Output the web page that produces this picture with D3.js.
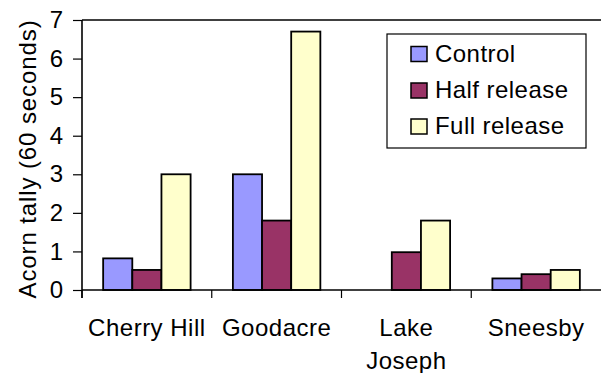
<!DOCTYPE html>
<html>
<head>
<meta charset="utf-8">
<script src="https://cdn.jsdelivr.net/npm/d3@7"></script>
<style>
  html, body { margin: 0; padding: 0; background: #fff; }
  svg { display: block; font-family: "Liberation Sans", Arial, sans-serif; }
</style>
</head>
<body>
<svg id="chart" width="601" height="373"></svg>
<script>
// Sites along the x axis (wrapped lines listed separately)
const sites = ["Cherry Hill", "Goodacre", "Lake Joseph", "Sneesby"];
const siteLines = [["Cherry Hill"], ["Goodacre"], ["Lake", "Joseph"], ["Sneesby"]];
// Treatments and their fills
const treatments = ["Control", "Half release", "Full release"];
const treatmentColors = ["#9999FF", "#993366", "#FFFFCC"];
// Acorn tally per site, one array per treatment
const controlValues = [0.82, 3.0, 0, 0.3];
const halfReleaseValues = [0.52, 1.8, 0.98, 0.41];
const fullReleaseValues = [3.0, 6.7, 1.8, 0.52];
const yTicks = [0, 1, 2, 3, 4, 5, 6, 7];

const seriesValues = [controlValues, halfReleaseValues, fullReleaseValues];

const svg = d3.select("#chart");
const plotLeft = 82, plotTop = 20, plotBottom = 290, plotRight = 601;

const x0 = d3.scaleBand().domain(sites).range([plotLeft, plotRight]).paddingInner(0).paddingOuter(0);
const bw = x0.bandwidth();
const x1 = d3.scaleBand().domain(treatments).range([bw * 0.163, bw * 0.837]).paddingInner(0).paddingOuter(0);
const y = d3.scaleLinear().domain([0, 7]).range([plotBottom, plotTop]);

// Top frame line
svg.append("line").attr("x1", plotLeft).attr("x2", plotRight).attr("y1", plotTop).attr("y2", plotTop)
  .attr("stroke", "#000").attr("stroke-width", 1.6);

// Bars
const groups = svg.append("g").selectAll("g").data(sites).join("g")
  .attr("transform", d => `translate(${x0(d)},0)`);
groups.selectAll("rect")
  .data((site, i) => treatments.map((t, k) => ({ t, k, v: seriesValues[k][i] })).filter(d => d.v > 0))
  .join("rect")
  .attr("x", d => x1(d.t))
  .attr("width", x1.bandwidth())
  .attr("y", d => y(d.v))
  .attr("height", d => y(0) - y(d.v))
  .attr("fill", d => treatmentColors[d.k])
  .attr("stroke", "#000")
  .attr("stroke-width", 1.8);

// Y axis
const yAxis = d3.axisLeft(y).tickValues(yTicks).tickSize(9).tickPadding(10).tickFormat(d3.format("d"));
const gy = svg.append("g").attr("transform", `translate(${plotLeft},0)`).call(yAxis);
gy.select(".domain").attr("stroke-width", 1.6).attr("d", `M0,${plotTop}V${plotBottom + 8}`);
gy.selectAll(".tick line").attr("stroke-width", 1.2);
gy.selectAll(".tick text").attr("font-size", 24).attr("fill", "#000")
  .attr("font-family", "Liberation Sans, Arial, sans-serif");

// X axis: baseline with tick marks at band boundaries
svg.append("line").attr("x1", plotLeft).attr("x2", plotRight).attr("y1", plotBottom).attr("y2", plotBottom)
  .attr("stroke", "#000").attr("stroke-width", 1.6);
svg.append("g").selectAll("line").data(sites).join("line")
  .attr("x1", d => x0(d)).attr("x2", d => x0(d))
  .attr("y1", plotBottom).attr("y2", plotBottom + 8)
  .attr("stroke", "#000").attr("stroke-width", 1.2);

// Site labels
const labels = svg.append("g").selectAll("text").data(sites).join("text")
  .attr("text-anchor", "middle")
  .attr("font-size", 24)
  .attr("letter-spacing", 0.5)
  .attr("fill", "#000");
labels.each(function (d, i) {
  const cx = x0(d) + bw / 2;
  d3.select(this).selectAll("tspan").data(siteLines[i]).join("tspan")
    .attr("x", cx)
    .attr("y", (l, j) => 335.5 + j * 33.5)
    .text(l => l);
});

// Y axis title
svg.append("text")
  .attr("transform", `translate(36,${(plotTop + plotBottom) / 2 + 4}) rotate(-90)`)
  .attr("text-anchor", "middle")
  .attr("font-size", 24)
  .attr("letter-spacing", 0.9)
  .attr("fill", "#000")
  .text("Acorn tally (60 seconds)");

// Legend
const legend = svg.append("g");
legend.append("rect").attr("x", 387).attr("y", 34).attr("width", 199).attr("height", 114)
  .attr("fill", "#fff").attr("stroke", "#000").attr("stroke-width", 1.2);
const items = legend.selectAll("g.item").data(treatments).join("g").attr("class", "item")
  .attr("transform", (d, i) => `translate(0,${[54, 90.5, 126.5][i]})`);
items.append("rect").attr("x", 411).attr("y", -7.5).attr("width", 16).attr("height", 15)
  .attr("fill", (d, i) => treatmentColors[i]).attr("stroke", "#000").attr("stroke-width", 1.5);
items.append("text").attr("x", 435).attr("y", 7.5).attr("font-size", 24)
  .attr("letter-spacing", 0.45).attr("fill", "#000")
  .text(d => d);
</script>
</body>
</html>
